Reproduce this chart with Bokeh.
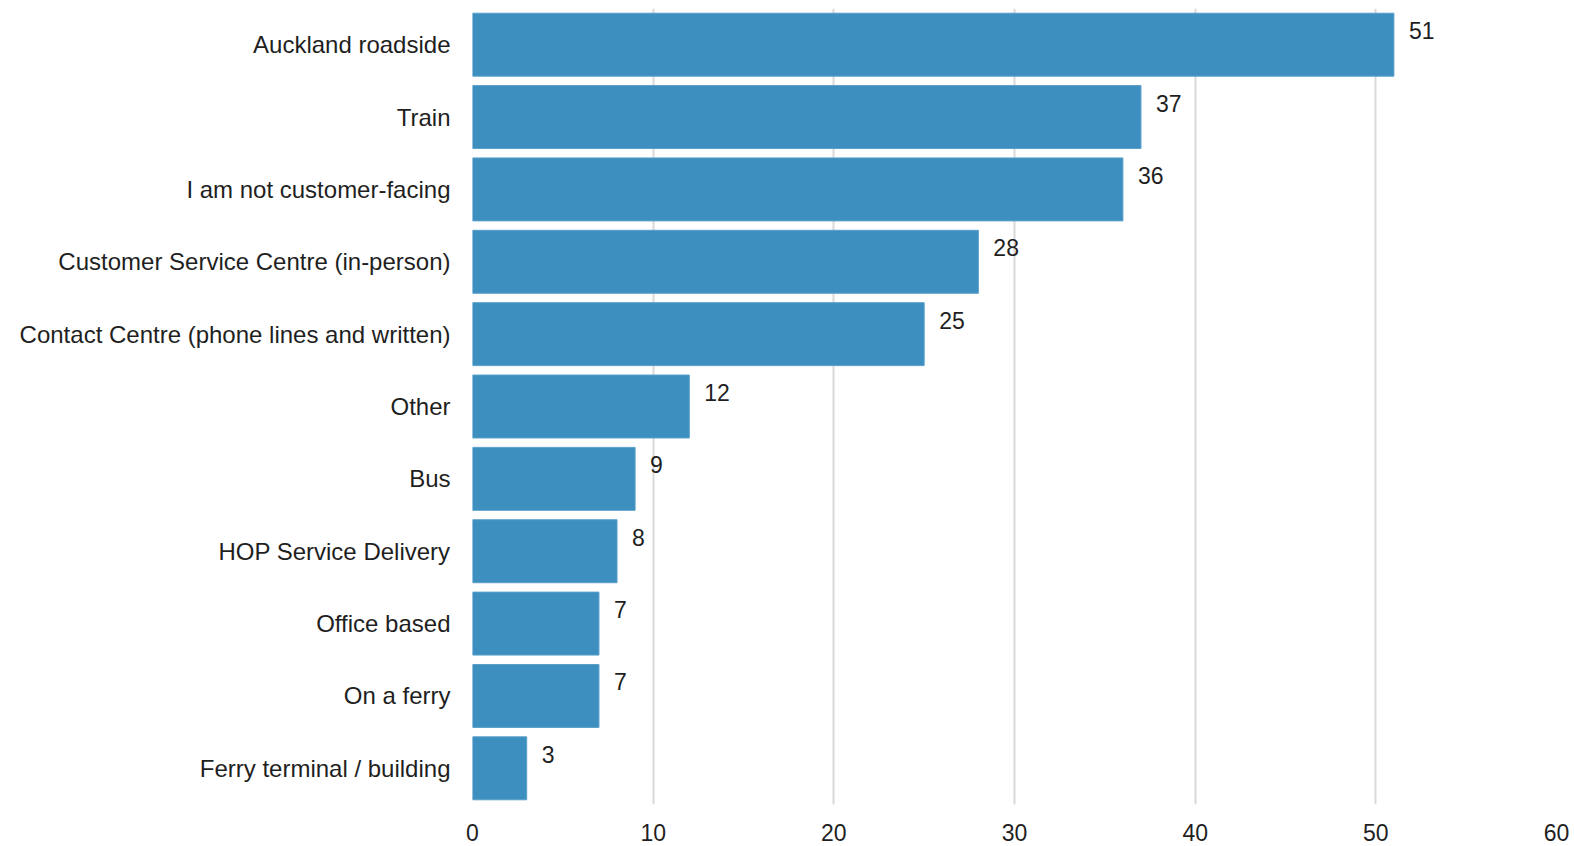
from bokeh.plotting import figure
from bokeh.models import ColumnDataSource, Range1d, FactorRange, FixedTicker, LabelSet
from bokeh.core.properties import value
from bokeh.embed import file_html
from bokeh.resources import INLINE

categories = [
    "Auckland roadside",
    "Train",
    "I am not customer-facing",
    "Customer Service Centre (in-person)",
    "Contact Centre (phone lines and written)",
    "Other",
    "Bus",
    "HOP Service Delivery",
    "Office based",
    "On a ferry",
    "Ferry terminal / building",
]
values = [51, 37, 36, 28, 25, 12, 9, 8, 7, 7, 3]
x_ticks = [0, 10, 20, 30, 40, 50, 60]

FONT = "Liberation Sans"
TEXT_COLOR = "#1f1f1f"

source = ColumnDataSource(dict(cat=categories, val=values, lab=[str(v) for v in values]))

p = figure(
    width=1574, height=846,
    y_range=FactorRange(*reversed(categories), range_padding=0),
    x_range=Range1d(0, 60),
    output_backend="svg", toolbar_location=None,
    min_border_left=472, min_border_right=18, min_border_top=8, min_border_bottom=42,
)

p.hbar(y="cat", right="val", left=0, height=0.87, source=source,
       fill_color="#3D8FBF", line_color="#5A9FCB", line_width=1)

labels = LabelSet(x="val", y="cat", text="lab", source=source,
                  x_offset=15, y_offset=14, text_baseline="middle",
                  text_font=value(FONT), text_font_size="23px", text_color=TEXT_COLOR)
p.add_layout(labels)

p.outline_line_color = None
p.ygrid.grid_line_color = None
p.xgrid.grid_line_color = "#D9D9D9"
p.xgrid.grid_line_width = 2
p.xaxis.ticker = FixedTicker(ticks=x_ticks)

for ax in (p.xaxis, p.yaxis):
    ax.axis_line_color = None
    ax.major_tick_line_color = None
    ax.minor_tick_line_color = None
    ax.major_tick_out = 0
    ax.major_tick_in = 0
    ax.major_label_text_font = FONT
    ax.major_label_text_color = TEXT_COLOR

p.xaxis.major_label_text_font_size = "23px"
p.yaxis.major_label_text_font_size = "24px"
p.xaxis.major_label_standoff = 19
p.yaxis.major_label_standoff = 22
p.yaxis.major_label_overrides = {
    "Customer Service Centre (in-person)": "Customer Service Centre (in-person)\u2002",
    "Bus": "Bus\u2002",
    "On a ferry": "On a ferry\u2002",
}

open("out.html", "w").write(file_html(p, INLINE))
